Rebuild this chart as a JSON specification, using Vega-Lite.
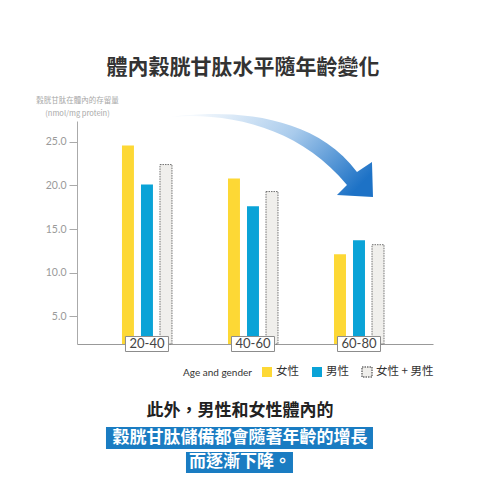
{
  "$schema": "https://vega.github.io/schema/vega-lite/v6.json",
  "width": 356,
  "height": 223,
  "autosize": {"type": "none"},
  "padding": {"top": 121, "left": 77, "right": 47, "bottom": 136},
  "background": "white",
  "config": {"view": {"stroke": null}, "font": "Noto Sans CJK TC"},
  "title": {
    "text": "體內穀胱甘肽水平隨年齡變化",
    "fontSize": 21,
    "fontWeight": "bold",
    "color": "#333333",
    "anchor": "middle",
    "dx": -12,
    "offset": 18
  },
  "data": {
    "values": [
      {"age": "20-40", "gender": "女性", "value": 24.6},
      {"age": "20-40", "gender": "男性", "value": 20.1},
      {"age": "20-40", "gender": "女性 + 男性", "value": 22.4},
      {"age": "40-60", "gender": "女性", "value": 20.8},
      {"age": "40-60", "gender": "男性", "value": 17.6},
      {"age": "40-60", "gender": "女性 + 男性", "value": 19.3},
      {"age": "60-80", "gender": "女性", "value": 12.1},
      {"age": "60-80", "gender": "男性", "value": 13.7},
      {"age": "60-80", "gender": "女性 + 男性", "value": 13.2}
    ]
  },
  "layer": [
    {
      "data": {"values": [{"shape": "arrow"}]},
      "mark": {
        "type": "point",
        "shape": "M-0.83,-0.685C-0.33,-0.755,0.59,-0.755,1.04,-0.135L1.19,-0.235L1.2,0.115L0.84,0.095L0.94,-0.005C0.47,-0.575,-0.23,-0.735,-0.83,-0.685Z",
        "size": 40000,
        "filled": true,
        "opacity": 1,
        "strokeWidth": 0,
        "fill": {
          "gradient": "linear",
          "x1": 0, "y1": 0.3, "x2": 1, "y2": 0.7,
          "stops": [
            {"offset": 0, "color": "#f5f9fd"},
            {"offset": 0.5, "color": "#a9cbec"},
            {"offset": 1, "color": "#1d72c6"}
          ]
        }
      },
      "encoding": {"x": {"datum": "40-60"}, "y": {"datum": 20}}
    },
    {
      "mark": {"type": "bar", "strokeWidth": 1},
      "encoding": {
        "x": {
          "field": "age",
          "type": "nominal",
          "scale": {"paddingInner": 0.17, "paddingOuter": 0.264, "align": 0.464},
          "axis": {"title": null, "labels": false, "ticks": false, "domainColor": "#999999"}
        },
        "xOffset": {
          "field": "gender",
          "type": "nominal",
          "scale": {"domain": ["女性", "男性", "女性 + 男性"], "paddingInner": 0.37, "paddingOuter": 1}
        },
        "y": {
          "field": "value",
          "type": "quantitative",
          "scale": {"domain": [1.8, 27.4], "nice": false, "zero": false},
          "axis": {
            "title": ["穀胱甘肽在體內的存留量", "(nmol/mg protein)"],
            "titleAngle": 0,
            "titleAlign": "center",
            "titleBaseline": "alphabetic",
            "titleX": 0,
            "titleY": -19,
            "titleFontSize": 7.5,
            "titleFontWeight": "normal",
            "titleColor": "#a8a8a8",
            "titleLineHeight": 13,
            "values": [5, 7.5, 10, 12.5, 15, 17.5, 20, 22.5, 25],
            "labelExpr": "datum.value % 5 === 0 ? format(datum.value, '.1f') : ''",
            "labelFont": "Lato",
            "labelFontSize": 10.5,
            "labelColor": "#9a9a9a",
            "labelPadding": 3,
            "tickSize": 8,
            "tickColor": "#aaaaaa",
            "domainColor": "#aaaaaa",
            "grid": false
          }
        },
        "y2": {"datum": 1.8},
        "color": {
          "field": "gender",
          "type": "nominal",
          "scale": {"domain": ["女性", "男性", "女性 + 男性"], "range": ["#fdd835", "#0aa3d7", "#f0efec"]},
          "legend": {
            "title": "Age and gender",
            "orient": "none",
            "legendX": 106,
            "legendY": 245,
            "direction": "horizontal",
            "titleOrient": "left",
            "titleFont": "Lato",
            "titleFontSize": 10,
            "titleFontWeight": "normal",
            "titleColor": "#333333",
            "titlePadding": 9,
            "labelFont": "Noto Sans CJK TC",
            "labelFontSize": 11.5,
            "labelColor": "#333333",
            "labelOffset": 3,
            "symbolType": "square",
            "symbolSize": 100,
            "columnPadding": 10
          }
        },
        "stroke": {
          "field": "gender",
          "type": "nominal",
          "scale": {"domain": ["女性", "男性", "女性 + 男性"], "range": ["rgba(0,0,0,0)", "rgba(0,0,0,0)", "#707070"]}
        },
        "strokeDash": {
          "field": "gender",
          "type": "nominal",
          "scale": {"domain": ["女性", "男性", "女性 + 男性"], "range": [[1, 0], [1, 0], [1.5, 1]]}
        }
      }
    },
    {
      "transform": [{"filter": "datum.gender === '女性'"}],
      "mark": {
        "type": "point",
        "shape": "M-1,-0.349L1,-0.349L1,0.349L-1,0.349Z",
        "size": 1849,
        "filled": true,
        "fill": "white",
        "stroke": "#8c8c8c",
        "strokeWidth": 1,
        "opacity": 1
      },
      "encoding": {"x": {"field": "age", "type": "nominal"}, "y": {"datum": 1.8}}
    },
    {
      "transform": [{"filter": "datum.gender === '女性'"}],
      "mark": {"type": "text", "font": "Lato", "fontSize": 13, "color": "#444444", "baseline": "middle"},
      "encoding": {
        "x": {"field": "age", "type": "nominal"},
        "y": {"datum": 1.8},
        "text": {"field": "age"}
      }
    },
    {
      "data": {"values": [{"line": 2}]},
      "mark": {
        "type": "point",
        "shape": "M-1.47,-0.11L1.2,-0.11L1.2,0.11L-1.47,0.11Z",
        "size": 40000,
        "filled": true,
        "fill": "#1a7cc2",
        "opacity": 1,
        "strokeWidth": 0
      },
      "encoding": {"x": {"datum": "40-60"}, "y": {"datum": -8.99}}
    },
    {
      "data": {"values": [{"line": 3}]},
      "mark": {
        "type": "point",
        "shape": "M-0.67,-0.105L0.4,-0.105L0.4,0.105L-0.67,0.105Z",
        "size": 40000,
        "filled": true,
        "fill": "#1a7cc2",
        "opacity": 1,
        "strokeWidth": 0
      },
      "encoding": {"x": {"datum": "40-60"}, "y": {"datum": -11.8}}
    },
    {
      "data": {"values": [{"text": "此外，男性和女性體內的"}]},
      "mark": {"type": "text", "fontSize": 17, "fontWeight": "bold", "color": "#222222", "baseline": "middle", "dx": -13},
      "encoding": {"x": {"datum": "40-60"}, "y": {"datum": -5.89}, "text": {"field": "text"}}
    },
    {
      "data": {"values": [{"text": "穀胱甘肽儲備都會隨著年齡的增長"}]},
      "mark": {"type": "text", "fontSize": 17, "fontWeight": "bold", "color": "white", "baseline": "middle", "dx": -13},
      "encoding": {"x": {"datum": "40-60"}, "y": {"datum": -8.99}, "text": {"field": "text"}}
    },
    {
      "data": {"values": [{"text": "而逐漸下降。"}]},
      "mark": {"type": "text", "fontSize": 17, "fontWeight": "bold", "color": "white", "baseline": "middle", "dx": -13},
      "encoding": {"x": {"datum": "40-60"}, "y": {"datum": -11.8}, "text": {"field": "text"}}
    }
  ]
}
